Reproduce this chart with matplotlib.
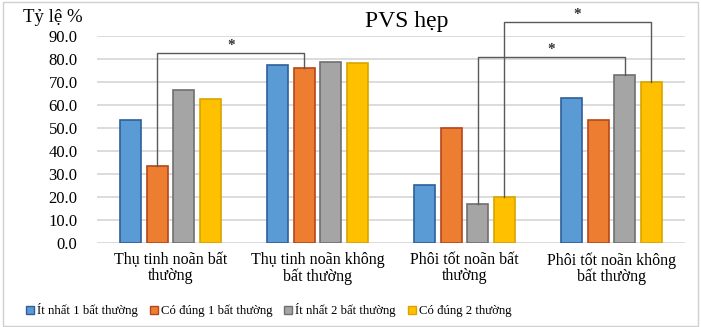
import matplotlib.pyplot as plt
import numpy as np
from matplotlib.lines import Line2D
from matplotlib.patches import Rectangle

plt.rcParams['font.family'] = ['Liberation Serif', 'DejaVu Serif']

categories = ["Thụ tinh noãn bất\nthường", "Thụ tinh noãn không\nbất thường",
              "Phôi tốt noãn bất\nthường", "Phôi tốt noãn không\nbất thường"]
series_names = ["Ít nhất 1 bất thường", "Có đúng 1 bất thường",
                "Ít nhất 2 bất thường", "Có đúng 2 thường"]
it_nhat_1 = [53.3, 77.4, 25.0, 63.3]
co_dung_1 = [33.3, 76.0, 50.0, 53.3]
it_nhat_2 = [66.7, 78.9, 16.7, 73.3]
co_dung_2 = [62.5, 78.4, 20.0, 70.0]
yticks = [0, 10, 20, 30, 40, 50, 60, 70, 80, 90]

# significance brackets: (group a, series a, group b, series b, bracket height)
brackets = [(0, 1, 1, 1, 82.7), (2, 3, 3, 3, 96.2), (2, 2, 3, 2, 81.0)]

colors = ['#5B9BD5', '#ED7D31', '#A5A5A5', '#FFC000']
edges = ['#2E5F99', '#B8461B', '#707070', '#D9A400']

fig = plt.figure(figsize=(7.01, 3.27), dpi=100)
ax = fig.add_axes([0.1384, 0.2578, 0.8386, 0.6312])

values = [it_nhat_1, co_dung_1, it_nhat_2, co_dung_2]
x = np.arange(len(categories))
step = 0.18
width = 0.143
for i, vals in enumerate(values):
    ax.bar(x + (i - 1.5) * step, vals, width, color=colors[i], edgecolor=edges[i],
           linewidth=1.2, zorder=3)

ax.set_xlim(-0.5, 3.5)
ax.set_ylim(0, 90)
ax.set_yticks(yticks)
ax.set_yticklabels([f"{v:.1f}" for v in yticks], fontsize=12)
ax.set_xticks(x)
ax.set_xticklabels(categories, fontsize=11.5, linespacing=1.0)
ax.tick_params(axis='y', length=0, pad=14)
ax.tick_params(axis='x', length=0, pad=7)
ax.grid(axis='y', color='#D9D9D9', linewidth=1.3, zorder=0)
for s in ax.spines.values():
    s.set_visible(False)

vals_all = np.array(values)
for ga, sa, gb, sb, h in brackets:
    xa = ga + (sa - 1.5) * step
    xb = gb + (sb - 1.5) * step
    ax.plot([xa, xa, xb, xb], [vals_all[sa][ga], h, h, vals_all[sb][gb]],
            color='#595959', linewidth=1.0, clip_on=False, zorder=4)
    ax.text((xa + xb) / 2, h + 0.3, '*', ha='center', va='bottom', fontsize=11,
            fontweight='bold', color='#333333')

fig.text(0.033, 0.945, "Tỷ lệ %", fontsize=13.5, ha='left', va='center')
fig.text(0.58, 0.935, "PVS hẹp", fontsize=17, ha='center', va='center')

handles = [Line2D([], [], linestyle='none', marker='s', markersize=5.5,
                  markerfacecolor=colors[i], markeredgecolor=edges[i])
           for i in range(4)]
fig.legend(handles, series_names, loc='center left', bbox_to_anchor=(0.038, 0.052),
           ncol=4, frameon=False, fontsize=9.2, handlelength=0.5, handletextpad=0.3,
           columnspacing=1.0, borderaxespad=0, borderpad=0)

fig.patches.append(Rectangle((0.004, 0.004), 0.992, 0.99, transform=fig.transFigure,
                             fill=False, edgecolor='#D0D0D0', linewidth=1.0))

fig.savefig("out.png", dpi=100)
